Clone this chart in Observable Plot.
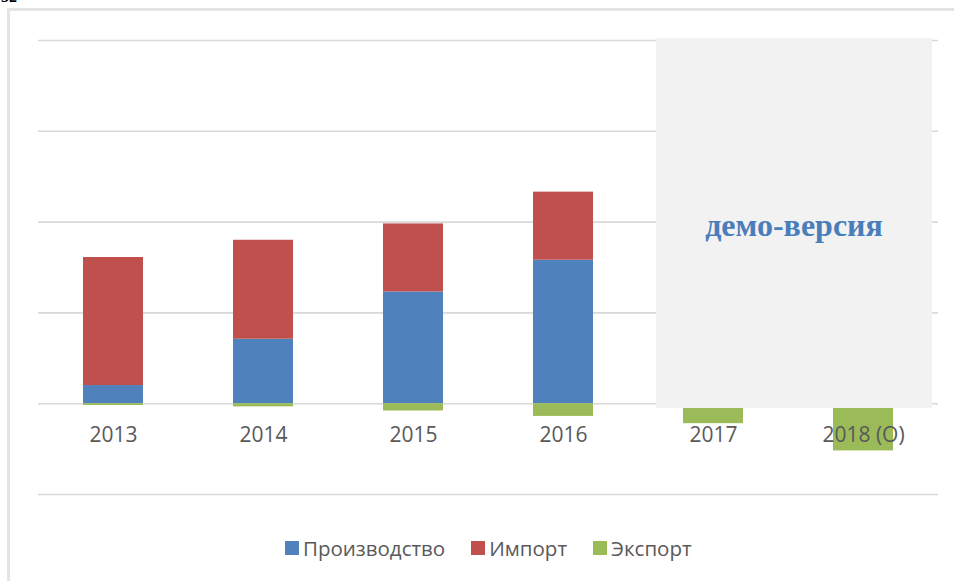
<!DOCTYPE html>
<html>
<head>
<meta charset="utf-8">
<script src="https://cdn.jsdelivr.net/npm/d3@7"></script>
<script src="https://cdn.jsdelivr.net/npm/@observablehq/plot@0.6"></script>
<style>
  html, body { margin: 0; padding: 0; background: #fff; }
  #wrap { position: relative; width: 954px; height: 581px; overflow: hidden; background: #fff; }
  #frame { position: absolute; left: 7px; top: 8px; right: -5px; bottom: -5px; border-top: 3px solid #e4e4e4; border-left: 3px solid #e4e4e4; }
  #crop { position: absolute; left: 1px; top: -12px; font: bold 16px "Liberation Serif", serif; color: #000; }
  #chart { position: absolute; left: 0; top: 0; }
  #demo { position: absolute; left: 656px; top: 38px; width: 276px; height: 370px; background: #f2f2f2; }
  #demo span { position: absolute; left: 0; width: 100%; top: 169px; text-align: center; font: bold 32px "Liberation Serif", "Times New Roman", serif; color: #4a7ebb; }
  #legend { position: absolute; left: 285px; top: 534px; display: flex; align-items: center; font: 20.5px "Open Sans", sans-serif; color: #595959; white-space: nowrap; }
  #legend .item { display: flex; align-items: center; margin-right: 26px; }
  #legend .sw { width: 14px; height: 14px; margin-right: 4px; }
</style>
</head>
<body>
<div id="wrap">
  <div id="frame"></div>
  <div id="crop">32</div>
  <div id="chart"></div>
  <div id="demo"><span>демо-версия</span></div>
  <div id="legend"></div>
</div>
<script>
const years = ["2013", "2014", "2015", "2016", "2017", "2018 (О)"];
const seriesNames = ["Производство", "Импорт", "Экспорт"];
const seriesColors = ["#4f81bd", "#c0504d", "#9bbb59"];
const production = [20, 71, 123, 158, 185, 205];
const imports = [141, 109, 75, 75, 70, 65];
const exportsVals = [-2, -3.5, -8, -14, -22, -52];
const gridTicks = [-100, 0, 100, 200, 300, 400];

const data = [];
years.forEach((y, i) => {
  data.push({year: y, series: seriesNames[0], value: production[i]});
  data.push({year: y, series: seriesNames[1], value: imports[i]});
  data.push({year: y, series: seriesNames[2], value: exportsVals[i]});
});

const chart = Plot.plot({
  width: 954,
  height: 510,
  marginTop: 40,
  marginBottom: 16,
  marginLeft: 38,
  marginRight: 16,
  style: {background: "transparent", overflow: "visible"},
  x: {domain: years, axis: null, paddingInner: 0.6, paddingOuter: 0.3},
  y: {domain: [-100, 400], axis: null},
  color: {domain: seriesNames, range: seriesColors},
  marks: [
    Plot.ruleY(gridTicks, {stroke: "#d9d9d9", strokeWidth: 1.6}),
    Plot.barY(data, {x: "year", y: "value", fill: "series", order: seriesNames}),
    Plot.text(years, {x: d => d, y: () => 0, dy: 32, text: d => d, fill: "#595959", fontSize: 21, fontFamily: "Open Sans, sans-serif"})
  ]
});
document.getElementById("chart").appendChild(chart);

const legend = document.getElementById("legend");
seriesNames.forEach((name, i) => {
  const item = document.createElement("div");
  item.className = "item";
  const sw = document.createElement("div");
  sw.className = "sw";
  sw.style.background = seriesColors[i];
  const t = document.createElement("span");
  t.textContent = name;
  item.appendChild(sw);
  item.appendChild(t);
  legend.appendChild(item);
});
</script>
</body>
</html>
